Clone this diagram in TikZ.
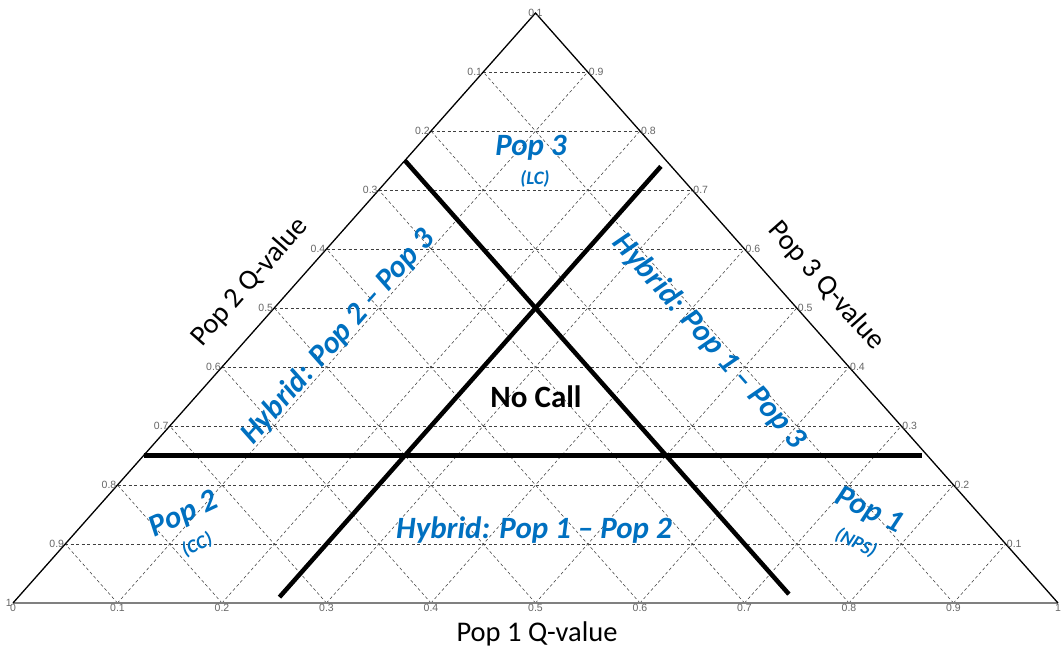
\documentclass[tikz,border=0pt]{standalone}
\usepackage{fontspec}
\setmainfont{Carlito}
\newfontfamily\tickfont{Liberation Sans}
\definecolor{popblue}{RGB}{0,112,192}

\begin{document}
\begin{tikzpicture}[x=1pt,y=-1pt,
    gridline/.style={black!75,line width=0.55pt,dash pattern=on 3pt off 2.5pt},
    divider/.style={black,line width=4.5pt},
    tick/.style={font=\tickfont\fontsize{10.5}{10.5}\selectfont,text=black!60,inner sep=1pt},
    axistitle/.style={font=\fontsize{28.5}{28.5}\selectfont},
    region/.style={font=\fontsize{31}{31}\selectfont\bfseries\itshape,text=popblue},
    subregion/.style={font=\fontsize{19}{19}\selectfont\bfseries\itshape,text=popblue}]
  \useasboundingbox (0,0) rectangle (1062,654);
  % ternary frame: x along Pop 1 axis, y up towards the apex
  \begin{scope}[shift={(13,603)},x={(1045pt,0pt)},y={(522.5pt,590pt)}]
    \coordinate (L) at (0,0);
    \coordinate (R) at (1,0);
    \coordinate (T) at (0,1);
    \foreach \k in {1,...,9} {
      \draw[gridline] (0,\k/10) -- (1-\k/10,\k/10);
      \draw[gridline] (\k/10,0) -- (\k/10,1-\k/10);
      \draw[gridline] (\k/10,0) -- (0,\k/10);
    }
    \draw[black!50,line width=2pt] (L) -- (R);
    \draw[black,line width=1.3pt] (R) -- (T) -- (L);
    % tick labels
    \foreach \v in {0,0.1,0.2,0.3,0.4,0.5,0.6,0.7,0.8,0.9,1}
      \node[tick,anchor=north] at (\v,0) {\v};
    \foreach \h/\t in {0/1,0.1/0.9,0.2/0.8,0.3/0.7,0.4/0.6,0.5/0.5,0.6/0.4,0.7/0.3,0.8/0.2,0.9/0.1,1/0}
      \node[tick,anchor=east] at (0,\h) {\t};
    \foreach \h in {0.1,0.2,0.3,0.4,0.5,0.6,0.7,0.8,0.9,1}
      \node[tick,anchor=west] at (1-\h,\h) {\h};
    % decision boundaries
    \draw[divider] (0,0.25) -- (0.745,0.25);
    \draw[divider] (0,0.75) -- (0.735,0.015);
    \draw[divider] (0.25,0.01) -- (0.25,0.74);
  \end{scope}

  \node[axistitle] (ax1) at (537,634) {Pop 1 Q-value};
  \node[axistitle,rotate=48.5] (ax2) at (250,282) {Pop 2 Q-value};
  \node[axistitle,rotate=-48.5] (ax3) at (826,286) {Pop 3 Q-value};

  \node[region] (p3) at (531,148) {Pop 3};
  \node[subregion] (p3s) at (535,179) {(LC)};
  \node[region,rotate=25] (p2) at (184,515) {Pop 2};
  \node[subregion,rotate=25] (p2s) at (197,545) {(CC)};
  \node[region,rotate=-26] (p1) at (869,511) {Pop 1};
  \node[subregion,rotate=-26] (p1s) at (856,543) {(NPS)};
  \node[region,rotate=48.5] (h23) at (338,337) {Hybrid: Pop 2 -- Pop 3};
  \node[region,rotate=-48.5] (h13) at (709,341) {Hybrid: Pop 1 -- Pop 3};
  \node[region] (h12) at (534,530) {Hybrid: Pop 1 -- Pop 2};
  \node[font=\fontsize{31}{31}\selectfont\bfseries] (nc) at (536,397) {No Call};
\end{tikzpicture}
\end{document}
